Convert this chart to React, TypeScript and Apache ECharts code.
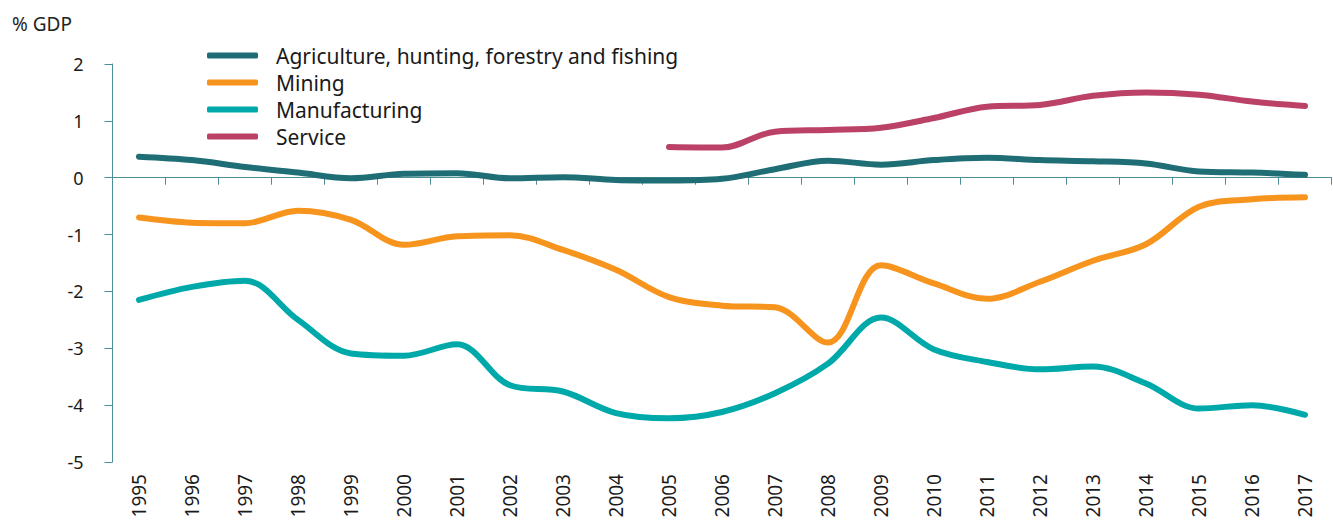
import React, { useEffect, useRef } from "react";
import * as echarts from "echarts";

const years = ["1995","1996","1997","1998","1999","2000","2001","2002","2003","2004","2005","2006","2007","2008","2009","2010","2011","2012","2013","2014","2015","2016","2017"];

const agriculture = [0.37, 0.31, 0.19, 0.09, -0.01, 0.07, 0.08, -0.01, 0.01, -0.04, -0.05, -0.02, 0.15, 0.30, 0.23, 0.31, 0.35, 0.31, 0.29, 0.25, 0.11, 0.09, 0.05];
const mining = [-0.70, -0.79, -0.80, -0.58, -0.74, -1.18, -1.03, -1.01, -1.27, -1.62, -2.10, -2.25, -2.28, -2.90, -1.54, -1.86, -2.13, -1.83, -1.46, -1.17, -0.51, -0.38, -0.345];
const manufacturing = [-2.15, -1.92, -1.81, -2.50, -3.09, -3.13, -2.93, -3.65, -3.76, -4.14, -4.23, -4.12, -3.79, -3.27, -2.46, -3.02, -3.24, -3.37, -3.32, -3.62, -4.06, -4.00, -4.17];
const service = [null, null, null, null, null, null, null, null, null, null, 0.54, 0.53, 0.81, 0.84, 0.88, 1.05, 1.25, 1.28, 1.44, 1.50, 1.46, 1.34, 1.26];

const seriesNames = ["Agriculture, hunting, forestry and fishing", "Mining", "Manufacturing", "Service"];
const seriesColors = ["#1f6e75", "#f7941d", "#00a9a9", "#bb4266"];
const seriesData = [agriculture, mining, manufacturing, service];

const FONT = "'Noto Sans', Lato, sans-serif";
const AXIS_COLOR = "#4d8f99";

export default function App() {
  const ref = useRef<HTMLDivElement>(null);
  useEffect(() => {
    if (!ref.current) return;
    const chart = echarts.init(ref.current, undefined, { renderer: "svg" });
    chart.setOption({
      animation: false,
      backgroundColor: "#ffffff",
      textStyle: { fontFamily: FONT },
      title: {
        text: "% GDP",
        left: 7,
        top: 9,
        textStyle: { fontFamily: FONT, fontSize: 19, fontWeight: "normal", color: "#222222" },
      },
      legend: {
        orient: "vertical",
        left: 207,
        top: 45,
        padding: 0,
        itemWidth: 51,
        itemHeight: 6,
        itemGap: 6,
        icon: "roundRect",
        data: seriesNames,
        textStyle: { fontFamily: FONT, fontSize: 21, lineHeight: 21, color: "#1a1a1a", padding: [0, 0, 0, 13] },
      },
      grid: { left: 112.5, right: 1.5, top: 64, bottom: 59, containLabel: false },
      xAxis: [
        {
          type: "category",
          data: years,
          boundaryGap: true,
          position: "bottom",
          axisLine: { show: false, onZero: false },
          axisTick: { show: false },
          axisLabel: { rotate: 90, margin: 12, fontSize: 19, color: "#1a1a1a", fontFamily: FONT },
          splitLine: { show: false },
        },
        {
          type: "category",
          data: years,
          boundaryGap: true,
          position: "top",
          axisLine: { show: true, onZero: true, lineStyle: { color: AXIS_COLOR, width: 1 } },
          axisTick: { show: true, inside: true, length: 7, lineStyle: { color: AXIS_COLOR, width: 1 } },
          axisLabel: { show: false },
          splitLine: { show: false },
        },
      ],
      yAxis: {
        type: "value",
        min: -5,
        max: 2,
        interval: 1,
        axisLine: { show: true, lineStyle: { color: AXIS_COLOR, width: 1 } },
        axisTick: { show: true, length: 8, lineStyle: { color: AXIS_COLOR, width: 1 } },
        axisLabel: { margin: 29, fontSize: 18, color: "#1a1a1a", fontFamily: FONT },
        splitLine: { show: false },
      },
      series: seriesNames.map((name, i) => ({
        name,
        type: "line",
        xAxisIndex: 0,
        data: seriesData[i],
        smooth: 0.35,
        symbol: "none",
        color: seriesColors[i],
        lineStyle: { width: 6, color: seriesColors[i], cap: "round", join: "round" },
        itemStyle: { color: seriesColors[i] },
        z: 3,
      })),
    });
    return () => chart.dispose();
  }, []);
  return (
    <div
      ref={ref}
      style={{ position: "fixed", left: 0, top: 0, width: 1333, height: 521, background: "#fff" }}
    />
  );
}
